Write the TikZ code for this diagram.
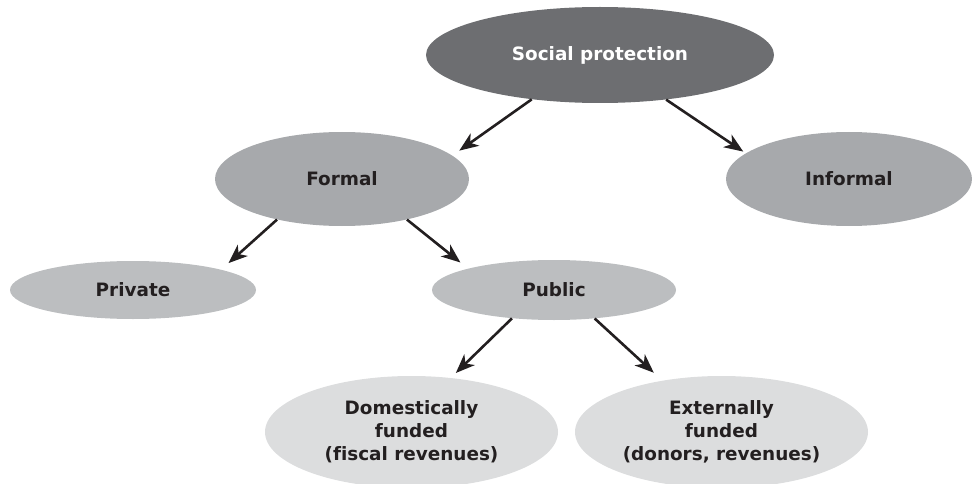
\documentclass[tikz,border=0pt]{standalone}
\usepackage{fontspec}
\setmainfont{DejaVu Sans}[Ligatures=NoCommon]
\usetikzlibrary{shapes.geometric,arrows.meta}
\definecolor{gA}{HTML}{6D6E71}
\definecolor{gB}{HTML}{A7A9AC}
\definecolor{gC}{HTML}{BCBEC0}
\definecolor{gD}{HTML}{DCDDDE}
\definecolor{txt}{HTML}{231F20}
\tikzset{
  oval/.style={ellipse, inner sep=0pt, text=txt, align=center,
    font=\bfseries\fontsize{18.4}{23}\selectfont},
  arr/.style={line width=2.6pt, draw=txt, -{Stealth[length=19pt,width=15pt,inset=5.5pt]}},
}
\begin{document}
\begin{tikzpicture}[x=1pt,y=-1pt]
\useasboundingbox (0,0) rectangle (972,484);
\node[oval, fill=gA, text=white, minimum width=348pt, minimum height=96pt] (sp) at (600,55) {Social protection};
\node[oval, fill=gB, minimum width=254pt, minimum height=94pt] (formal) at (342,179) {Formal};
\node[oval, fill=gB, minimum width=246pt, minimum height=94pt] (informal) at (849,179) {Informal};
\node[oval, fill=gC, minimum width=246pt, minimum height=58pt] (private) at (133,290) {Private};
\node[oval, fill=gC, minimum width=244pt, minimum height=60pt] (public) at (554,290) {Public};
\node[oval, fill=gD, minimum width=293pt, minimum height=112pt] (dom) at (411.5,432) {Domestically\\funded\\(fiscal revenues)};
\node[oval, fill=gD, minimum width=293pt, minimum height=112pt] (ext) at (721.5,432) {Externally\\funded\\(donors, revenues)};
\draw[arr, shorten >=8.5pt] (sp.213) -- (formal.12.8);
\draw[arr, shorten >=3pt] (sp.326) -- (informal.166);
\draw[arr, shorten >=9.8pt] (formal.212.6) -- (private.13.4);
\draw[arr, shorten >=9.7pt] (formal.328.2) -- (public.166);
\draw[arr, shorten >=7pt] (public.214.3) -- (dom.54.6);
\draw[arr, shorten >=11.6pt] (public.325) -- (ext.139.7);
\end{tikzpicture}
\end{document}
